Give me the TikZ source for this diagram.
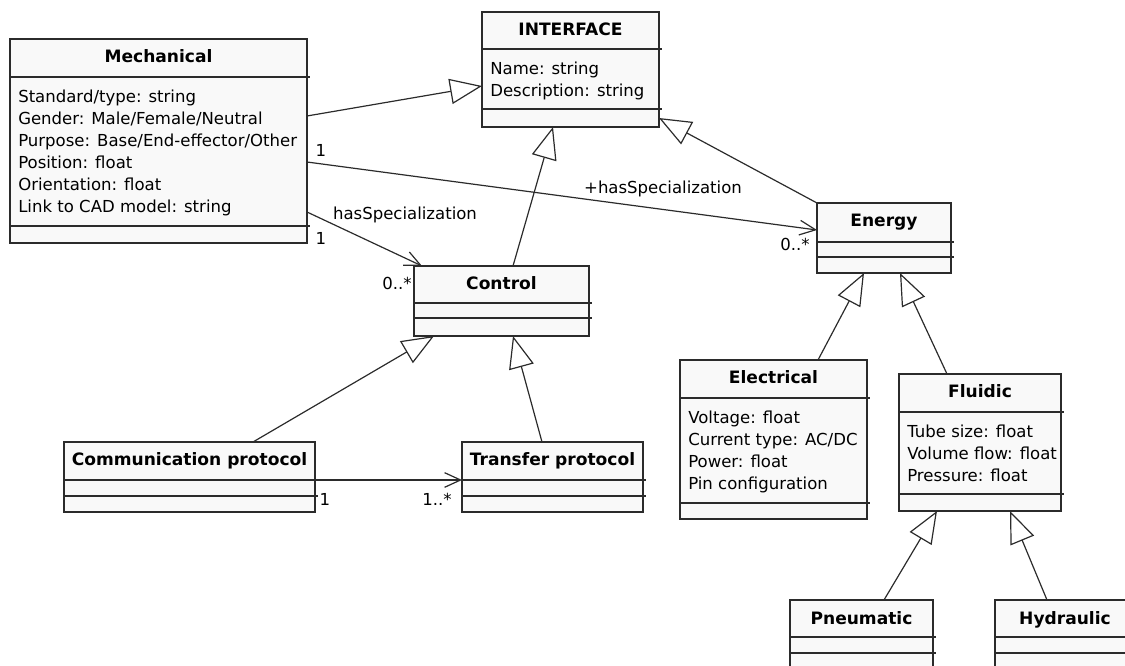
\documentclass[tikz,border=0pt]{standalone}
\usepackage{fontspec}
\setmainfont{DejaVu Sans}
\usetikzlibrary{arrows.meta,calc}

\definecolor{ink}{HTML}{2B2B2B}
\definecolor{boxfill}{HTML}{F9F9F9}

\tikzset{
  classbox/.style={draw=ink, fill=boxfill, line width=0.9pt, rectangle,
    inner sep=0pt, outer sep=0pt, anchor=north west},
  sepline/.style={draw=ink, line width=0.9pt},
  ctitle/.style={font=\fontsize{12.8}{15}\selectfont\bfseries, inner sep=0pt, anchor=base},
  cattr/.style={font=\fontsize{12.4}{15}\selectfont, inner sep=0pt, anchor=base west},
  mult/.style={font=\fontsize{12.4}{15}\selectfont, inner sep=0pt},
  gen/.style={draw=ink, line width=0.9pt,
    -{Triangle[open, length=24pt, width=19pt, line width=0.9pt]}},
  assoc/.style={draw=ink, line width=0.9pt,
    -{Straight Barb[length=12pt, width=11pt, line width=0.9pt]}},
}

% class box: name, left, top, right, bottom, first separator, second separator, title
\newcommand\umlclass[8]{%
  \node[classbox, minimum width={(#4-#2)*0.75pt}, minimum height={(#5-#3)*0.75pt}] (#1) at (#2,#3) {};
  \draw[sepline] (#2,#6) -- (#4+3,#6);
  \draw[sepline] (#2,#7) -- (#4+3,#7);
  \node[ctitle] (#1-t) at ({(#2+#4)/2},#3+24) {#8};
}
% attribute lines: name, left, first separator, list of lines
\newcommand\umlattrs[4]{%
  \foreach \a [count=\i] in {#4}
    \node[cattr] (#1-a\i) at (#2+8, {#3+26+22*(\i-1)}) {\a};
}

\begin{document}
\begin{tikzpicture}[x=0.75pt, y=-0.75pt]
\useasboundingbox (0,0) rectangle (1125,666);
\clip (0,0) rectangle (1125,666);

% classes
\umlclass{mech}{10}{39}{307}{243}{77}{226}{Mechanical}
\umlattrs{mech}{10}{77}{Standard/type: string, Gender: Male/Female/Neutral,
  Purpose: Base/End-effector/Other, Position: float, Orientation: float,
  Link to CAD model: string}

\umlclass{iface}{482}{12}{659}{127}{49}{109}{INTERFACE}
\umlattrs{iface}{482}{49}{Name: string, Description: string}

\umlclass{ctrl}{414}{266}{589}{336}{303}{318}{Control}
\umlclass{energy}{817}{203}{951}{273}{242}{257}{Energy}
\umlclass{comm}{64}{442}{315}{512}{480}{496}{Communication protocol}
\umlclass{transf}{462}{442}{643}{512}{480}{496}{Transfer protocol}

\umlclass{elec}{680}{360}{867}{519}{398}{503}{Electrical}
\umlattrs{elec}{680}{398}{Voltage: float, Current type: AC/DC, Power: float,
  Pin configuration}

\umlclass{fluid}{899}{374}{1061}{511}{412}{494}{Fluidic}
\umlattrs{fluid}{899}{412}{Tube size: float, Volume flow: float, Pressure: float}

\umlclass{pneu}{790}{600}{933}{672}{637}{653}{Pneumatic}
\umlclass{hydr}{995}{600}{1135}{672}{637}{653}{Hydraulic}

% generalizations
\draw[gen] ($(mech.north east)+(0,77)$) -- ($(iface.north west)+(0,74)$);
\draw[gen] (energy.north west) -- ($(iface.north east)+(0,106)$);
\draw[gen] ($(ctrl.north west)+(99,0)$) -- ($(iface.south west)+(71,0)$);
\draw[gen] ($(comm.north west)+(189,0)$) -- ($(ctrl.south west)+(20,0)$);
\draw[gen] ($(transf.north west)+(80,0)$) -- ($(ctrl.south west)+(99,0)$);
\draw[gen] ($(elec.north west)+(138,0)$) -- ($(energy.south west)+(47,0)$);
\draw[gen] ($(fluid.north west)+(48,0)$) -- ($(energy.south west)+(83,0)$);
\draw[gen] ($(pneu.north west)+(94,0)$) -- ($(fluid.south west)+(38,0)$);
\draw[gen] ($(hydr.north west)+(52,0)$) -- ($(fluid.south west)+(111,0)$);

% associations
\draw[assoc] ($(mech.north east)+(0,123)$) -- ($(energy.north west)+(0,27)$);
\draw[assoc] ($(mech.north east)+(0,173)$) -- ($(ctrl.north west)+(8,0)$);
\draw[assoc] ($(comm.north east)+(0,38)$) -- ($(transf.north west)+(0,38)$);

% association labels and multiplicities
\node[mult] (m1) at (321,150) {1};
\node[mult] (hs1) at (663,189) {+hasSpecialization};
\node[mult] (m2) at (795,244) {0..*};
\node[mult] (hs2) at (405,215) {hasSpecialization};
\node[mult] (m3) at (321,238) {1};
\node[mult] (m4) at (397,283) {0..*};
\node[mult] (m5) at (325,499) {1};
\node[mult] (m6) at (437,499) {1..*};
\end{tikzpicture}
\end{document}
